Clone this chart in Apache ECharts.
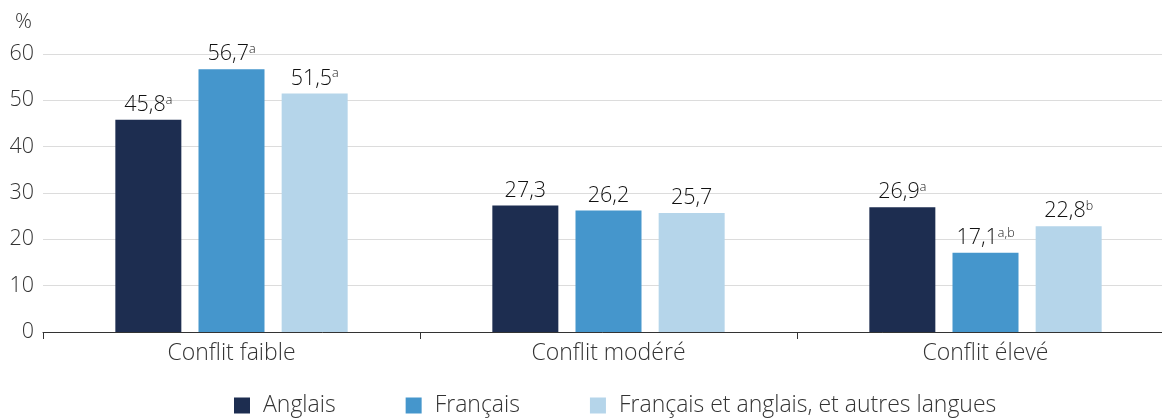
<!DOCTYPE html>
<html><head><meta charset="utf-8">
<script src="https://cdn.jsdelivr.net/npm/echarts@6/dist/echarts.min.js"></script>
<style>html,body{margin:0;padding:0;background:#fff}#c{width:1162px;height:419px}</style>
</head><body><div id="c"></div>
<script>
const categories = ['Conflit faible', 'Conflit modéré', 'Conflit élevé'];
const seriesNames = ['Anglais', 'Français', 'Français et anglais, et autres langues'];
const anglais = [45.8, 27.3, 26.9];
const francais = [56.7, 26.2, 17.1];
const mixte = [51.5, 25.7, 22.8];
const anglaisNotes = ['a', '', 'a'];
const francaisNotes = ['a', '', 'a,b'];
const mixteNotes = ['a', '', 'b'];
const yTicks = [0, 10, 20, 30, 40, 50, 60];
const colors = ['#1d2d50', '#4596cc', '#b5d5ea'];

const FONT = '"Open Sans", "Noto Sans", sans-serif';
const W = 300;
function mk(name, vals, notes, color) {
  return {
    name: name, type: 'bar', barWidth: 66, barGap: '26%',
    itemStyle: { color: color },
    data: vals.map((v, i) => ({ value: v, note: notes[i] })),
    label: {
      show: true, position: 'top', distance: 4,
      formatter: p => {
        const s = p.value.toFixed(1).replace('.', ',');
        return p.data.note ? '{v|' + s + '}{s|' + p.data.note + '}' : '{v|' + s + '}';
      },
      rich: {
        v: { fontFamily: FONT, fontWeight: W, fontSize: 21.5, color: '#111' },
        s: { fontFamily: FONT, fontWeight: W, fontSize: 12.5, color: '#111', verticalAlign: 'top', padding: [0, 0, 8, 0] }
      }
    }
  };
}
const chart = echarts.init(document.getElementById('c'));
chart.setOption({
  animation: false,
  color: colors,
  title: { text: '%', left: 10, top: 7, textStyle: { fontFamily: FONT, fontSize: 21, fontWeight: W, color: '#333' } },
  grid: { left: 43, right: -12, top: 54, height: 278, outerBoundsMode: 'none' },
  legend: {
    top: 389, left: 229, itemWidth: 16, itemHeight: 16, itemGap: 70, icon: 'rect',
    textStyle: { fontFamily: FONT, fontWeight: W, fontSize: 23, color: '#333', padding: [0, 0, 0, 8] },
    data: seriesNames
  },
  xAxis: {
    type: 'category', data: categories,
    axisLine: { lineStyle: { color: '#333', width: 1 } },
    axisTick: { show: true, length: 7, lineStyle: { color: '#333' } },
    axisLabel: { fontFamily: FONT, fontWeight: W, fontSize: 23, color: '#333', margin: 10 }
  },
  yAxis: {
    type: 'value', min: yTicks[0], max: yTicks[yTicks.length - 1], interval: 10,
    axisLine: { show: false }, axisTick: { show: false },
    axisLabel: { fontFamily: FONT, fontWeight: W, fontSize: 21.5, color: '#333', margin: 9 },
    splitLine: { lineStyle: { color: '#dcdcdc', width: 1 } }
  },
  series: [
    mk(seriesNames[0], anglais, anglaisNotes, colors[0]),
    mk(seriesNames[1], francais, francaisNotes, colors[1]),
    mk(seriesNames[2], mixte, mixteNotes, colors[2])
  ]
});
</script></body></html>
